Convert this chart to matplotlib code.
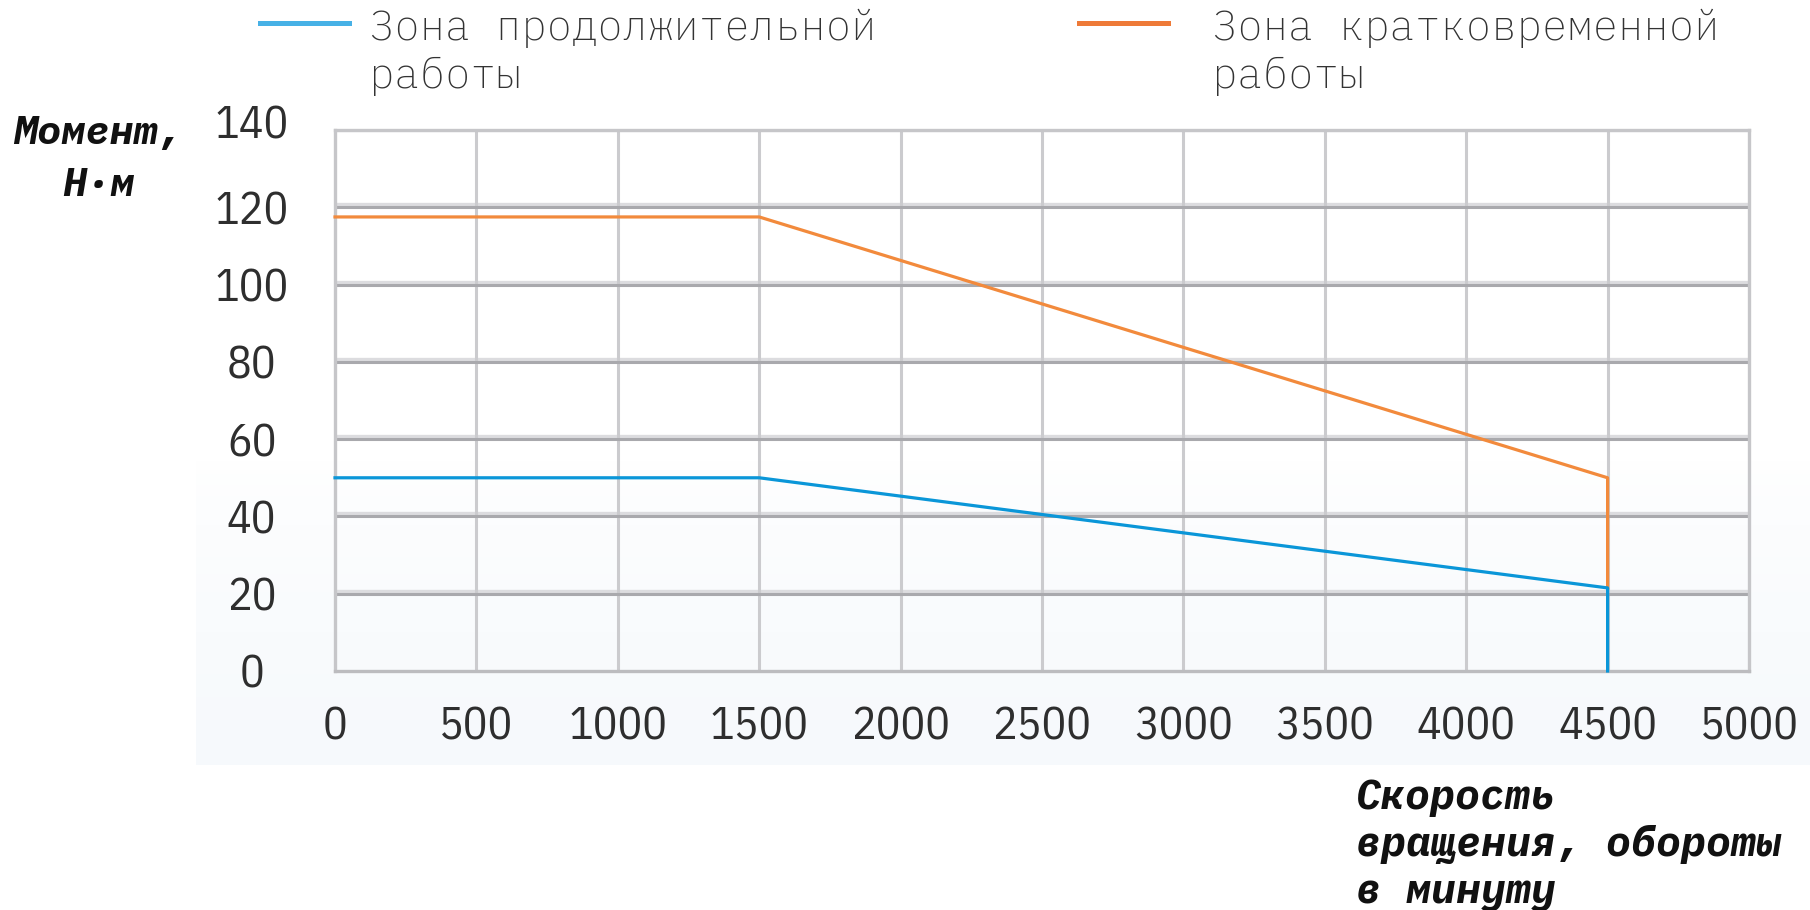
import matplotlib
matplotlib.use("Agg")
import matplotlib.pyplot as plt
import matplotlib.transforms as mtransforms
import numpy as np

W, H = 1810, 910

speed_ticks = [0, 500, 1000, 1500, 2000, 2500, 3000, 3500, 4000, 4500, 5000]
torque_ticks = [0, 20, 40, 60, 80, 100, 120, 140]

# continuous duty zone
cont_speed = [0, 1500, 4500, 4500]
cont_torque = [50, 50, 21.5, 0]
# short-term duty zone
peak_speed = [0, 1500, 4500, 4500]
peak_torque = [117.5, 117.5, 50, 21.5]

cont_label = "Зона продолжительной\nработы"
peak_label = "Зона кратковременной\nработы"
ylabel = "Момент,\nН·м"
xlabel = "Скорость\nвращения, обороты\nв минуту"

BLUE = "#0a96d8"
ORANGE = "#f28a3c"
TICK_FONT = ["IBM Plex Sans Condensed", "DejaVu Sans"]
MONO = ["IBM Plex Mono", "DejaVu Sans Mono"]


def fx(px):
    return px / W


def fy(py):
    return 1 - py / H


fig = plt.figure(figsize=(W / 100, H / 100), dpi=100)
fig.patch.set_facecolor("white")

# faint tinted band behind the lower part of the chart
bg = fig.add_axes([fx(196), fy(765), 1 - fx(196), fy(460) - fy(765)], zorder=0)
grad = np.linspace(0, 1, 256)[:, None]
tint = np.ones((256, 1, 4))
tint[..., 0] = 0.968
tint[..., 1] = 0.978
tint[..., 2] = 0.989
tint[..., 3] = (1 - grad) ** 0.7
bg.imshow(tint, aspect="auto", extent=(0, 1, 0, 1), origin="lower")
bg.axis("off")

ax = fig.add_axes([fx(335), fy(671), fx(1749) - fx(335), fy(130) - fy(671)], zorder=1)
ax.patch.set_alpha(0)
ax.set_xlim(0, 5000)
ax.set_ylim(0, 140)

up = mtransforms.ScaledTranslation(0, 3 / 100, fig.dpi_scale_trans)
for y in torque_ticks[1:]:
    ax.plot([0, 1], [y, y], color="#dcdcdf", lw=2.4, zorder=1,
            transform=ax.get_yaxis_transform() + up)
    ax.axhline(y, color="#a9a9ad", lw=2.2, zorder=2)
for x in speed_ticks[1:-1]:
    ax.axvline(x, color="#cbcbce", lw=2.2, zorder=1)

for side in ["left", "right", "top", "bottom"]:
    ax.spines[side].set_color("#c6c6c9")
    ax.spines[side].set_linewidth(2.4)
ax.spines["bottom"].set_color("#bcbcbf")

ax.plot(cont_speed, cont_torque, color=BLUE, lw=2.3, zorder=4, clip_on=False)
ax.plot(peak_speed, peak_torque, color=ORANGE, lw=2.3, zorder=3, clip_on=False)

ax.set_xticks(speed_ticks)
ax.set_yticks(torque_ticks)
ax.tick_params(length=0, colors="#2e2e2e", labelsize=33)
ax.tick_params(axis="x", pad=25)
ax.tick_params(axis="y", pad=60)
for t in ax.get_xticklabels() + ax.get_yticklabels():
    t.set_family(TICK_FONT)
for t in ax.get_yticklabels():
    t.set_ha("center")
# top label sits a little above its gridline
top_lbl = ax.get_yticklabels()[-1]
top_lbl.set_transform(top_lbl.get_transform()
                      + mtransforms.ScaledTranslation(0, 8 / 100, fig.dpi_scale_trans))

# legend drawn by hand above the plot
fig.add_artist(plt.Line2D([fx(260), fx(349)], [fy(23), fy(23)], color="#47b1e6", lw=3.6))
fig.add_artist(plt.Line2D([fx(1079), fx(1168)], [fy(23), fy(23)], color="#ee7a38", lw=3.6))
for x0, label in [(369, cont_label), (1212, peak_label)]:
    fig.text(fx(x0), fy(88), label, family=MONO, fontsize=30.5, weight="light",
             color="#333333", va="baseline", ha="left", linespacing=1.3)

fig.text(fx(98), fy(196), ylabel, family=MONO, fontsize=29, weight="bold", style="italic",
         color="#111111", va="baseline", ha="center", linespacing=1.5)
fig.text(fx(1356), fy(903), xlabel, family=MONO, fontsize=30, weight="bold", style="italic",
         color="#111111", va="baseline", ha="left", linespacing=1.26)

fig.savefig("out.png", dpi=100)
